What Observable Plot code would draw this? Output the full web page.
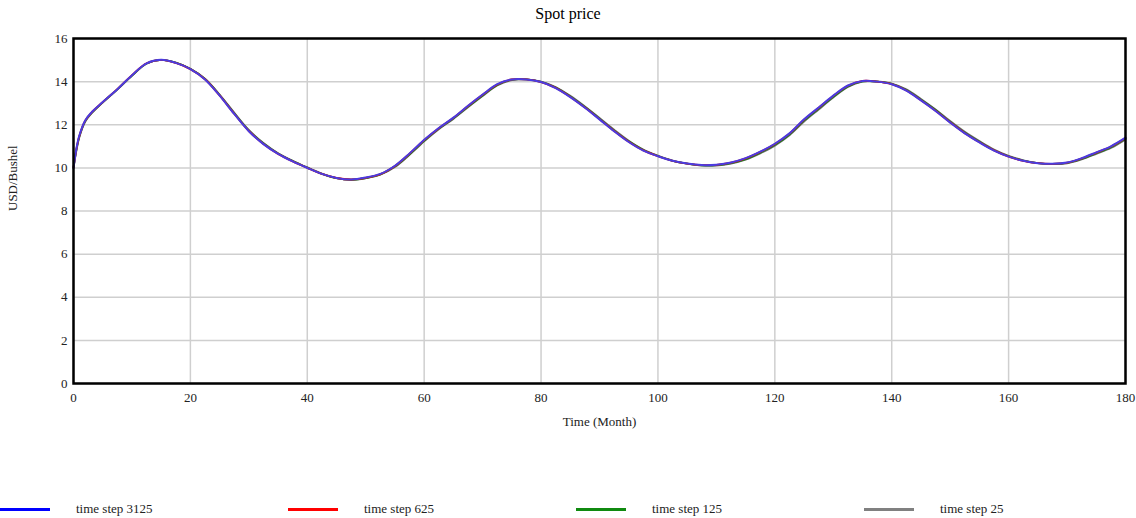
<!DOCTYPE html>
<html>
<head>
<meta charset="utf-8">
<script src="https://cdn.jsdelivr.net/npm/d3@7"></script>
<script src="https://cdn.jsdelivr.net/npm/@observablehq/plot@0.6"></script>
<style>
  html, body { margin: 0; padding: 0; background: #fff; }
  body { width: 1136px; height: 518px; position: relative; overflow: hidden; font-family: "Liberation Serif", "DejaVu Serif", serif; }
  #title { position: absolute; left: 0; top: 0; width: 1136px; height: 28px; line-height: 28px; text-align: center; font-size: 16px; color: #000; }
  #chart { position: absolute; left: 0; top: 28px; }
  #legend { position: absolute; left: 0; top: 500px; width: 1136px; height: 18px; }
  .item { position: absolute; top: 0; height: 18px; }
  .swatch { position: absolute; left: 0; top: 8px; width: 50px; height: 3px; }
  .lab { position: absolute; left: 76px; top: 0; line-height: 18px; font-size: 13px; color: #222; white-space: nowrap; }
</style>
</head>
<body>
<div id="title">Spot price</div>
<div id="chart"></div>
<div id="legend"></div>
<script>
const times = [0,0.5,1,2,3,5,7.5,10,12.5,15,17.5,20,22.5,25,27.5,30,32.5,35,37.5,40,42.5,45,47.5,50,52.5,55,57,58,59,60,62.5,65,67.5,70,72.5,75,77.5,80,82.5,85,87.5,90,92.5,95,97.5,100,102.5,105,107.5,110,112.5,115,117.5,120,122.5,125,127.5,130,132.5,135,137.5,140,142.5,145,147.5,150,152.5,155,157.5,160,162.5,165,167.5,170,172.5,175,177.5,180];

const step3125 = [10.0,10.9,11.5,12.2,12.55,13.05,13.65,14.3,14.85,15.01,14.87,14.58,14.1,13.35,12.5,11.7,11.1,10.65,10.3,10.0,9.72,9.53,9.46,9.55,9.72,10.1,10.55,10.8,11.05,11.3,11.85,12.33,12.88,13.4,13.88,14.1,14.1,13.98,13.7,13.28,12.79,12.25,11.7,11.2,10.8,10.54,10.33,10.2,10.13,10.15,10.25,10.45,10.75,11.12,11.6,12.25,12.8,13.35,13.82,14.03,14.0,13.88,13.58,13.13,12.64,12.1,11.6,11.18,10.8,10.52,10.33,10.22,10.19,10.25,10.45,10.72,11.0,11.4];

const step625 = [10.0,10.88,11.48,12.19,12.54,13.05,13.65,14.3,14.85,15.01,14.87,14.58,14.11,13.36,12.51,11.71,11.11,10.65,10.3,10.0,9.72,9.53,9.46,9.54,9.71,10.09,10.54,10.79,11.04,11.29,11.84,12.32,12.87,13.39,13.87,14.1,14.1,13.98,13.71,13.29,12.8,12.26,11.71,11.21,10.81,10.54,10.33,10.2,10.13,10.14,10.24,10.44,10.74,11.11,11.59,12.24,12.79,13.34,13.81,14.03,14.0,13.88,13.59,13.14,12.65,12.11,11.61,11.19,10.81,10.52,10.33,10.22,10.19,10.24,10.44,10.71,10.99,11.39];

const step125 = [10.0,10.85,11.46,12.17,12.52,13.04,13.64,14.28,14.84,15.01,14.88,14.59,14.12,13.38,12.53,11.73,11.13,10.67,10.32,10.01,9.72,9.52,9.45,9.53,9.7,10.07,10.51,10.76,11.01,11.26,11.82,12.3,12.84,13.36,13.85,14.09,14.1,13.99,13.73,13.31,12.82,12.28,11.73,11.23,10.83,10.55,10.33,10.2,10.12,10.13,10.22,10.41,10.71,11.07,11.55,12.2,12.75,13.3,13.78,14.01,14.0,13.9,13.61,13.16,12.68,12.13,11.63,11.21,10.82,10.54,10.34,10.22,10.18,10.23,10.42,10.68,10.96,11.36];

const step25 = [10.0,10.8,11.42,12.14,12.5,13.03,13.63,14.27,14.83,15.01,14.88,14.6,14.14,13.4,12.56,11.76,11.15,10.68,10.33,10.02,9.73,9.52,9.44,9.52,9.68,10.04,10.48,10.73,10.98,11.23,11.79,12.27,12.81,13.33,13.82,14.07,14.1,14.0,13.75,13.34,12.85,12.32,11.77,11.26,10.85,10.57,10.34,10.2,10.11,10.11,10.2,10.38,10.67,11.03,11.51,12.15,12.71,13.26,13.75,14.0,14.01,13.91,13.64,13.2,12.71,12.17,11.67,11.24,10.85,10.56,10.35,10.22,10.17,10.21,10.39,10.65,10.92,11.32];

const seriesNames = ["time step 3125","time step 625","time step 125","time step 25"];
const seriesColors = ["#0000ff","#ff0000","#108a10","#808080"];
const lineColors = ["#4a3ce0","#ff0000","#108a10","#6a6a6a"];
const xTicks = [0,20,40,60,80,100,120,140,160,180];
const yTicks = [0,2,4,6,8,10,12,14,16];

const toRows = (vals) => times.map((t, i) => ({t, v: vals[i]}));

const font = "Liberation Serif, DejaVu Serif, serif";

const chart = Plot.plot({
  width: 1136,
  height: 420,
  marginLeft: 73,
  marginRight: 11,
  marginTop: 10,
  marginBottom: 65,
  style: { fontFamily: font, fontSize: "13px", color: "#222", background: "#fff" },
  x: { domain: [0, 180] },
  y: { domain: [0, 16] },
  marks: [
    Plot.gridX(xTicks, { stroke: "#cfcfcf", strokeOpacity: 1, strokeWidth: 1.5 }),
    Plot.gridY(yTicks, { stroke: "#cfcfcf", strokeOpacity: 1, strokeWidth: 1.5 }),
    Plot.axisX(xTicks, { tickSize: 0, tickPadding: 9, label: null, fontSize: 13 }),
    Plot.axisY(yTicks, { tickSize: 0, tickPadding: 6, label: null, fontSize: 13 }),
    Plot.line(toRows(step25), { x: "t", y: "v", stroke: lineColors[3], strokeWidth: 1.8, curve: "catmull-rom" }),
    Plot.line(toRows(step125), { x: "t", y: "v", stroke: lineColors[2], strokeWidth: 1.8, curve: "catmull-rom" }),
    Plot.line(toRows(step625), { x: "t", y: "v", stroke: lineColors[1], strokeWidth: 1.8, curve: "catmull-rom" }),
    Plot.line(toRows(step3125), { x: "t", y: "v", stroke: lineColors[0], strokeWidth: 2, curve: "catmull-rom" }),
    Plot.frame({ stroke: "#000", strokeWidth: 2.5 }),
    Plot.text(["USD/Bushel"], { frameAnchor: "left", dx: -61, rotate: -90, fontSize: 13, fill: "#222" }),
    Plot.text(["Time (Month)"], { frameAnchor: "bottom", dy: 42, fontSize: 13, fill: "#222" })
  ]
});
document.getElementById("chart").appendChild(chart);

const legend = document.getElementById("legend");
seriesNames.forEach((name, i) => {
  const item = document.createElement("div");
  item.className = "item";
  item.style.left = (i * 288) + "px";
  const sw = document.createElement("div");
  sw.className = "swatch";
  sw.style.background = seriesColors[i];
  const lab = document.createElement("div");
  lab.className = "lab";
  lab.textContent = name;
  item.appendChild(sw);
  item.appendChild(lab);
  legend.appendChild(item);
});
</script>
</body>
</html>
